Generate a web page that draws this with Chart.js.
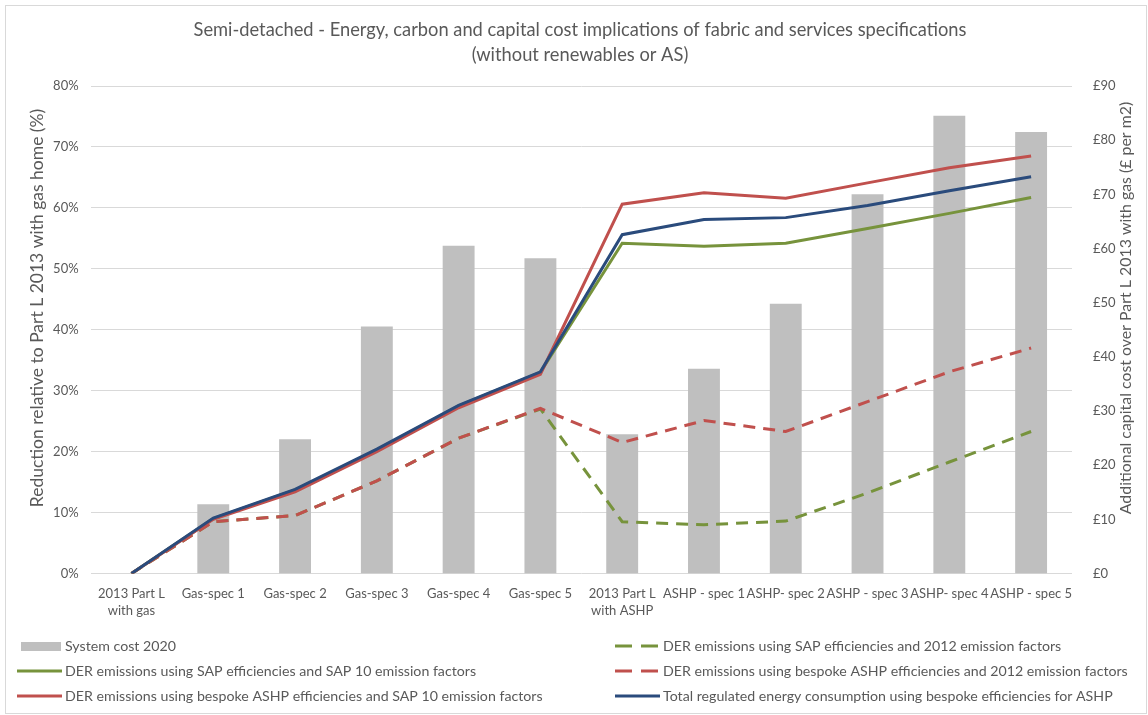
<!DOCTYPE html>
<html>
<head>
<meta charset="utf-8">
<script src="https://cdn.jsdelivr.net/npm/chart.js@4.4.1/dist/chart.umd.min.js"></script>
<style>
    body { margin: 0; background: #fff; }
    canvas { display: block; }
</style>
</head>
<body>
<canvas id="myChart" width="1148" height="715"></canvas>
<script>
const categories = [['2013 Part L', 'with gas'], 'Gas-spec 1', 'Gas-spec 2', 'Gas-spec 3', 'Gas-spec 4', 'Gas-spec 5', ['2013 Part L', 'with ASHP'], 'ASHP - spec 1', 'ASHP- spec 2', 'ASHP - spec 3', 'ASHP- spec 4', 'ASHP - spec 5']
const systemCost = [0, 12.8, 24.8, 45.6, 60.5, 58.2, 25.7, 37.8, 49.8, 70.0, 84.5, 81.5]
const derSap2012 = [0, 8.5, 9.5, 15.2, 22.2, 27.0, 8.5, 8.0, 8.6, 13.2, 18.3, 23.3]
const derSap10 = [0, 9.0, 13.7, 20.3, 27.5, 33.0, 54.2, 53.7, 54.2, 56.6, 59.1, 61.7]
const derBespoke2012 = [0, 8.5, 9.5, 15.2, 22.2, 27.1, 21.5, 25.1, 23.3, 28.2, 33.1, 37.0]
const derBespokeSap10 = [0, 8.9, 13.4, 20.0, 27.2, 32.7, 60.6, 62.5, 61.6, 64.1, 66.6, 68.5]
const totalEnergy = [0, 9.1, 13.8, 20.4, 27.6, 33.1, 55.6, 58.1, 58.4, 60.4, 62.8, 65.1]
const leftTicks = [0, 10, 20, 30, 40, 50, 60, 70, 80]
const rightTicks = [0, 10, 20, 30, 40, 50, 60, 70, 80, 90]

const titleLines = ['Semi-detached - Energy, carbon and capital cost implications of fabric and services specifications', '(without renewables or AS)']
const leftTitle = 'Reduction relative to Part L 2013 with gas home (%)'
const rightTitle = 'Additional capital cost over Part L 2013 with gas (£ per m2)'
const fontName = 'Lato, "Open Sans", sans-serif'
const textColor = '#595959'
const gridColor = '#d9d9d9'

// legend is laid out in 2 columns like the excel one
const legendOrder = [0, 1, 2, 3, 4, 5]

const chartFrame = {
    id: 'chartFrame',
    beforeDraw(chart) {
        const c = chart.ctx
        c.save()
        c.fillStyle = '#fff'
        c.fillRect(0, 0, chart.width, chart.height)
        c.strokeStyle = gridColor
        c.lineWidth = 1
        c.strokeRect(5.5, 5.5, chart.width - 7, chart.height - 7)
        c.restore()
    },
    afterDraw(chart) {
        const c = chart.ctx
        c.save()
        c.fillStyle = textColor
        c.font = '18.3px ' + fontName
        c.textAlign = 'center'
        c.textBaseline = 'middle'
        c.fillText(titleLines[0], 580, 30)
        c.fillText(titleLines[1], 580, 55)

        // both axis titles read bottom to top
        c.font = '17.5px ' + fontName
        c.save()
        c.translate(37, 308)
        c.rotate(-Math.PI / 2)
        c.fillText(leftTitle, 0, 0)
        c.restore()
        c.font = '15.9px ' + fontName
        c.save()
        c.translate(1126, 308)
        c.rotate(-Math.PI / 2)
        c.fillText(rightTitle, 0, 0)
        c.restore()

        c.font = '14.2px ' + fontName
        c.textAlign = 'left'
        let cols = [17, 615]
        let rows = [646, 671, 696]
        legendOrder.forEach((dsIndex, i) => {
            let ds = chart.data.datasets[dsIndex]
            let x = cols[i % 2]
            let y = rows[Math.floor(i / 2)]
            if (ds.type === 'bar') {
                c.fillStyle = ds.backgroundColor
                c.fillRect(x + 4, y - 4, 40, 9)
            } else {
                c.strokeStyle = ds.borderColor
                c.lineWidth = 3
                c.setLineDash(ds.borderDash ? [17, 9] : [])
                c.beginPath()
                c.moveTo(x, y)
                c.lineTo(x + 45, y)
                c.stroke()
                c.setLineDash([])
            }
            c.fillStyle = textColor
            c.fillText(ds.label, x + 48, y)
        })
        c.restore()
    }
}

function lineSet(label, data, color, dashed, order) {
    return {
        type: 'line',
        label,
        data,
        borderColor: color,
        backgroundColor: color,
        borderWidth: 3,
        borderDash: dashed ? [12, 8] : undefined,
        pointRadius: 0,
        tension: 0,
        yAxisID: 'y',
        order
    }
}

const ctx = document.getElementById('myChart')

new Chart(ctx, {
    data: {
        labels: categories,
        datasets: [
            {
                type: 'bar',
                label: 'System cost 2020',
                data: systemCost,
                backgroundColor: '#bfbfbf',
                barPercentage: 0.39,
                categoryPercentage: 1,
                yAxisID: 'y1',
                order: 10
            },
            lineSet('DER emissions using SAP efficiencies and 2012 emission factors', derSap2012, '#77933c', true, 5),
            lineSet('DER emissions using SAP efficiencies and SAP 10 emission factors', derSap10, '#77933c', false, 3),
            lineSet('DER emissions using bespoke ASHP efficiencies and 2012 emission factors', derBespoke2012, '#c0504d', true, 4),
            lineSet('DER emissions using bespoke ASHP efficiencies and SAP 10 emission factors', derBespokeSap10, '#c0504d', false, 2),
            lineSet('Total regulated energy consumption using bespoke efficiencies for ASHP', totalEnergy, '#2a4b7c', false, 1)
        ]
    },
    options: {
        responsive: false,
        animation: false,
        layout: { padding: { top: 86, left: 0, right: 0, bottom: 0 } },
        plugins: {
            legend: { display: false },
            title: { display: false },
            tooltip: { enabled: false }
        },
        scales: {
            x: {
                grid: { display: false },
                border: { display: false },
                ticks: {
                    color: textColor,
                    font: { family: fontName, size: 13, lineHeight: 1.3 },
                    autoSkip: false,
                    maxRotation: 0,
                    minRotation: 0,
                    padding: 4
                },
                afterFit(scale) { scale.height = 141.5 }
            },
            y: {
                position: 'left',
                min: 0,
                max: 80,
                afterBuildTicks(scale) { scale.ticks = leftTicks.map(v => ({ value: v })) },
                grid: { color: gridColor, lineWidth: 1, drawTicks: false },
                border: { display: false },
                ticks: {
                    color: textColor,
                    font: { family: fontName, size: 13 },
                    padding: 12,
                    callback: v => v + '%'
                },
                afterFit(scale) { scale.width = 90.6 }
            },
            y1: {
                position: 'right',
                min: 0,
                max: 90,
                afterBuildTicks(scale) { scale.ticks = rightTicks.map(v => ({ value: v })) },
                grid: { display: false },
                border: { display: false },
                ticks: {
                    color: textColor,
                    font: { family: fontName, size: 13 },
                    padding: 13,
                    callback: v => '£' + v
                },
                afterFit(scale) { scale.width = 76 }
            }
        }
    },
    plugins: [chartFrame]
})
</script>
</body>
</html>
